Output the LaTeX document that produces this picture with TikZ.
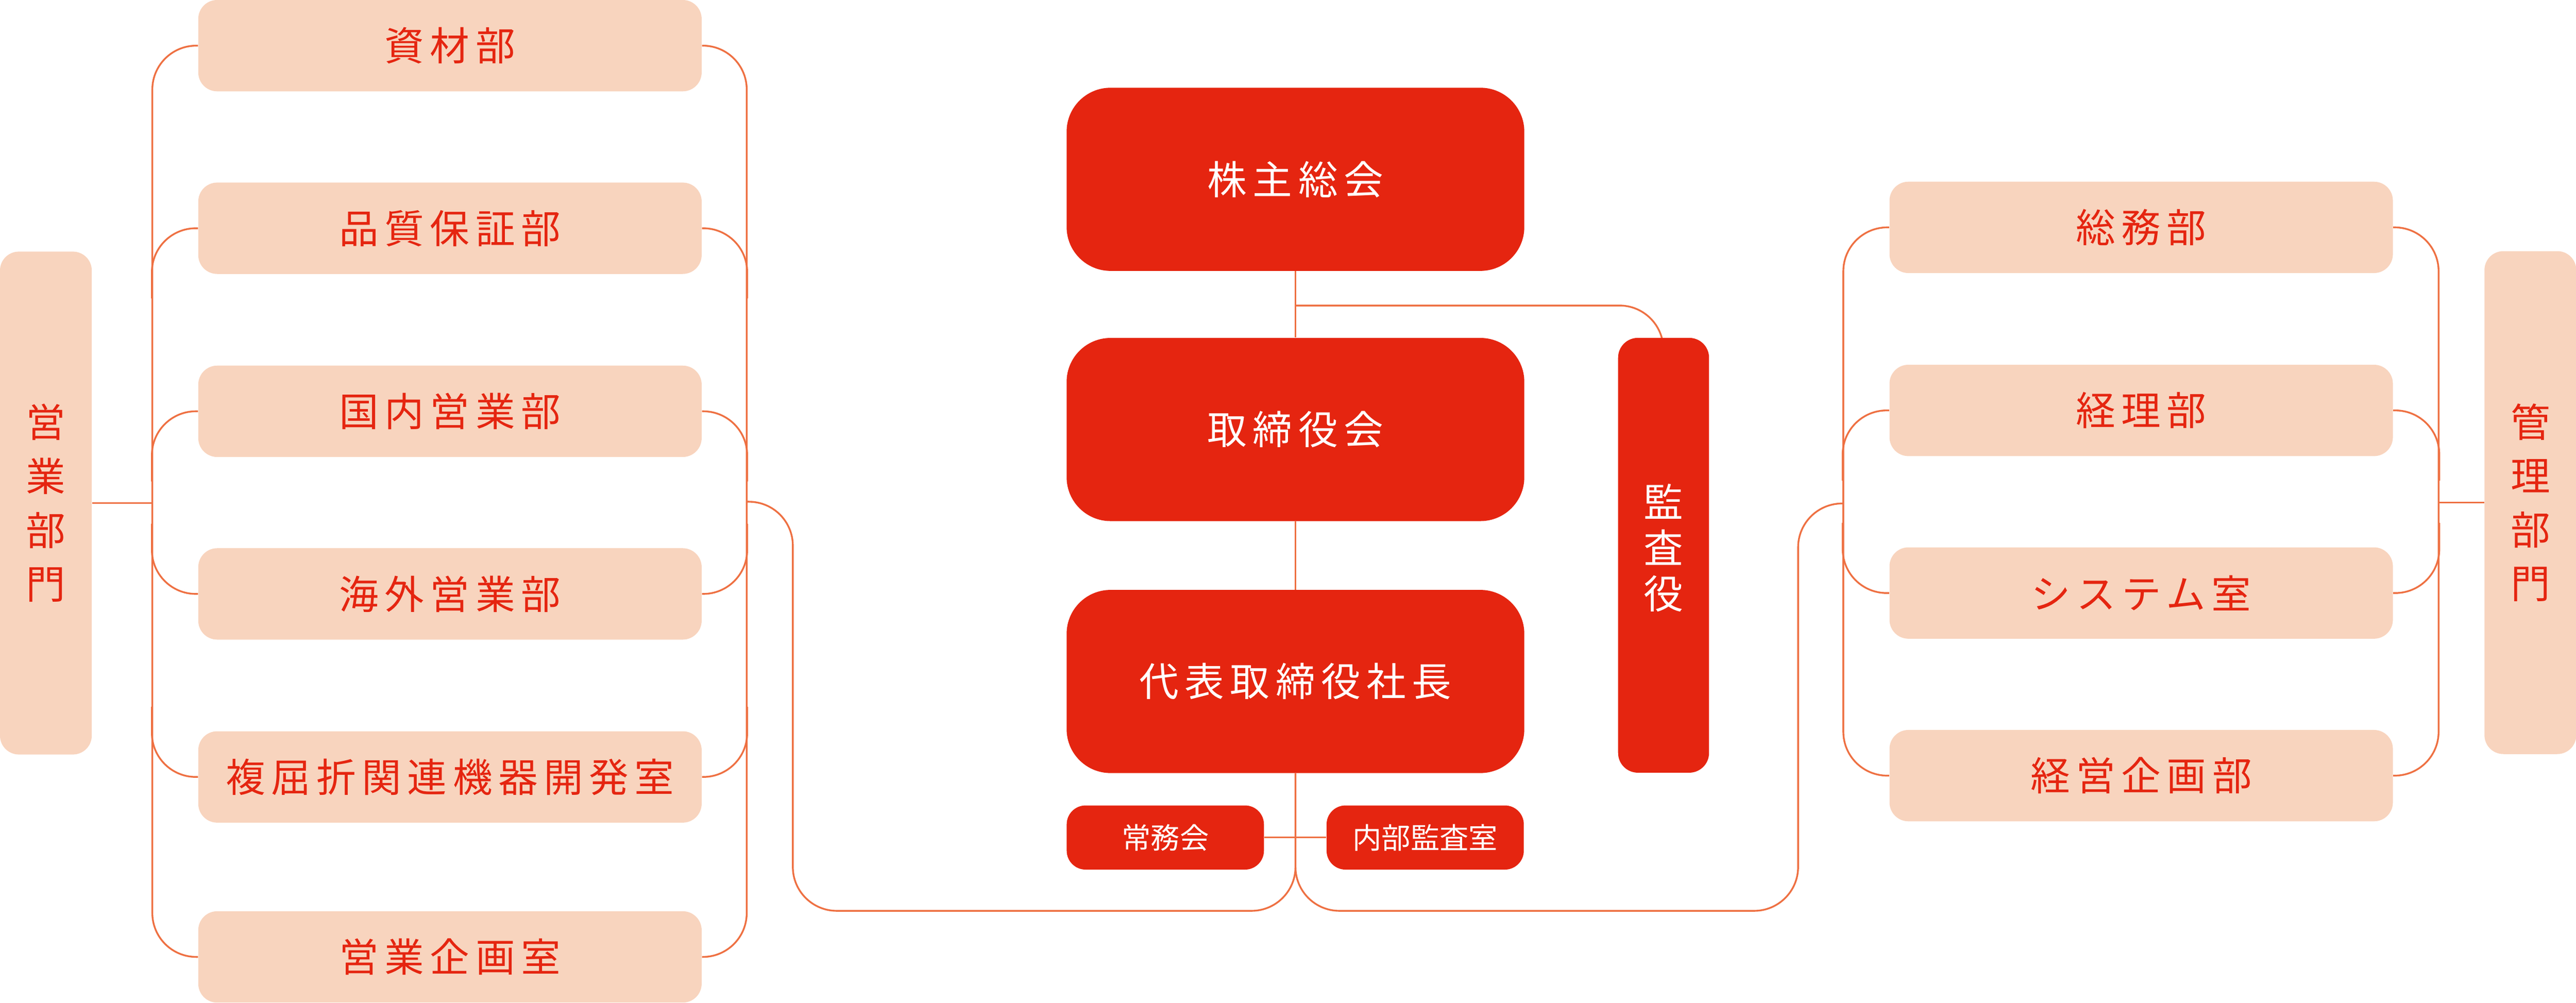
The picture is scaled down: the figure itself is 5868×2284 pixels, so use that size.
\documentclass[tikz,border=0pt]{standalone}
\usepackage{fontspec}
\usetikzlibrary{backgrounds}
\setmainfont{Noto Sans CJK JP}
\newfontfamily\jpspaced[LetterSpace=15]{Noto Sans CJK JP}
\newfontfamily\jpplain{Noto Sans CJK JP}
\newcommand\mybigfont{\jpspaced\fontsize{25.6pt}{30pt}\selectfont}
\newcommand\mysmallfont{\jpplain\fontsize{18.8pt}{22pt}\selectfont}
\definecolor{peach}{HTML}{F8D4BE}
\definecolor{redbox}{HTML}{E52510}
\definecolor{linec}{HTML}{EE7042}
\begin{document}
\begin{tikzpicture}[x=0.01cm,y=-0.01cm,
  conn/.style={draw=linec,line width=0.04cm,rounded corners=1cm},
  dept/.style={fill=peach,text=redbox,rounded corners=0.43cm,minimum width=11.46cm,minimum height=2.08cm,inner sep=0pt,font=\mybigfont},
  group/.style={fill=peach,text=redbox,rounded corners=0.43cm,minimum width=2.09cm,minimum height=11.45cm,inner sep=0pt,align=center,font={\jpplain\fontsize{25.6pt}{34.9pt}\selectfont}},
  exec/.style={fill=redbox,text=white,rounded corners=1cm,minimum width=10.42cm,minimum height=4.17cm,inner sep=0pt,font=\mybigfont},
  smallexec/.style={fill=redbox,text=white,rounded corners=0.43cm,minimum width=4.49cm,minimum height=1.46cm,inner sep=0pt,font=\mysmallfont},
  auditor/.style={fill=redbox,rounded corners=0.45cm,minimum width=2.07cm,minimum height=9.9cm,inner sep=0pt},
  auditortext/.style={text=white,inner sep=0pt,align=center,font={\jpplain\fontsize{25.6pt}{29.6pt}\selectfont}}
]
\useasboundingbox (0,0) rectangle (5868,2284);

% left group
\node[group] (eigyo) at (104.5,1146) {営\\業\\部\\門};
\node[dept] (d1) at (1025,104) {資材部};
\node[dept] (d2) at (1025,520) {品質保証部};
\node[dept] (d3) at (1025,937) {国内営業部};
\node[dept] (d4) at (1025,1353) {海外営業部};
\node[dept] (d5) at (1025,1770) {複屈折関連機器開発室};
\node[dept] (d6) at (1025,2180) {営業企画室};

% centre
\node[exec] (kabu) at (2951,408.5) {株主総会};
\node[exec] (tori) at (2951,978.5) {取締役会};
\node[exec] (daihyo) at (2951,1552.5) {代表取締役社長};
\node[smallexec] (jomu) at (2654.5,1908) {常務会};
\node[smallexec] (naibu) at (3246.5,1908) {内部監査室};
\node[auditor] (kansa) at (3789.5,1265) {};
\node[auditortext] (kansalbl) at (3789.5,1248) {監\\査\\役};

% right group
\node[dept] (r1) at (4877.5,518) {総務部};
\node[dept] (r2) at (4877.5,935) {経理部};
\node[dept] (r3) at (4877.5,1351) {システム室};
\node[dept] (r4) at (4877.5,1767) {経営企画部};
\node[group] (kanri) at (5764,1145) {管\\理\\部\\門};

\coordinate (lj) at (1701,1143);
\coordinate (rj) at (4199,1147);
\coordinate (kj) at (2951,696);

\begin{pgfonlayer}{background}
% left bracket
\draw[conn] (d1.west) -- (347,104) -- (347,2180) -- (d6.west);
\draw[conn] (d1.east) -- (1701,104) -- (1701,2180) -- (d6.east);
\foreach \n in {d2,d3}{
  \draw[conn] (\n.west) -- ++(-105,0) -- ++(0,160);
  \draw[conn] (\n.east) -- ++(103,0) -- ++(0,160);
}
\foreach \n in {d4,d5}{
  \draw[conn] (\n.west) -- ++(-105,0) -- ++(0,-160);
  \draw[conn] (\n.east) -- ++(103,0) -- ++(0,-160);
}
\draw[conn] (eigyo.east) -- (347,1146);

% right bracket
\draw[conn] (r1.west) -- (4199,518) -- (4199,1767) -- (r4.west);
\draw[conn] (r1.east) -- (5555,518) -- (5555,1767) -- (r4.east);
\foreach \n in {r2}{
  \draw[conn] (\n.west) -- ++(-106,0) -- ++(0,160);
  \draw[conn] (\n.east) -- ++(105,0) -- ++(0,160);
}
\foreach \n in {r3}{
  \draw[conn] (\n.west) -- ++(-106,0) -- ++(0,-160);
  \draw[conn] (\n.east) -- ++(105,0) -- ++(0,-160);
}
\draw[conn] (kanri.west) -- (5555,1145);

% centre
\draw[conn] (kabu) -- (tori);
\draw[conn] (tori) -- (daihyo);
\draw[conn] (jomu) -- (naibu);
\draw[conn] (kj) -- (3789,696) -- (3789,840);
\draw[conn] (lj) -- (1806,1143) -- (1806,2075) -- (2951,2075) -- (daihyo.south);
\draw[conn] (daihyo.south) -- (2951,2075) -- (4096,2075) -- (4096,1147) -- (rj);
\end{pgfonlayer}
\end{tikzpicture}
\end{document}
